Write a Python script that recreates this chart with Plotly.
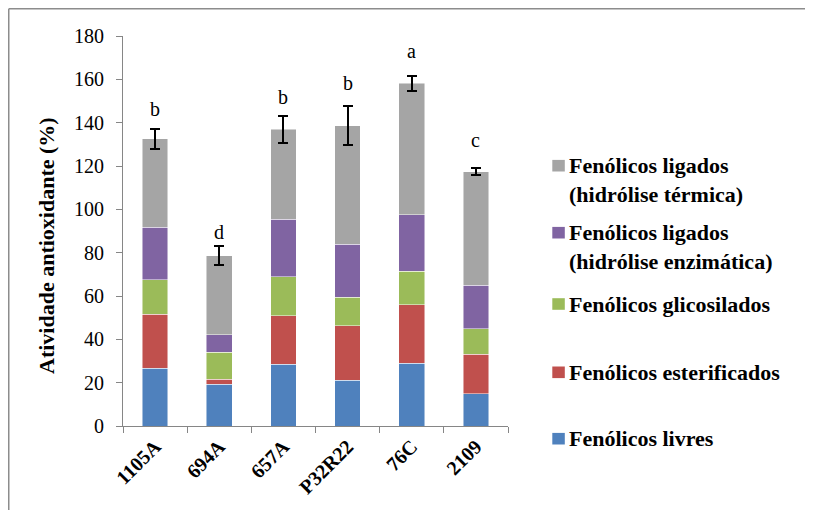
import plotly.graph_objects as go

# ---------------- data ----------------
categories = ["1105A", "694A", "657A", "P32R22", "76C", "2109"]
series_names = [
    "Fenólicos livres",
    "Fenólicos esterificados",
    "Fenólicos glicosilados",
    "Fenólicos ligados<br>(hidrólise enzimática)",
    "Fenólicos ligados<br>(hidrólise térmica)",
]
livres = [26.6, 19.2, 28.5, 21.1, 28.9, 14.9]
esterificados = [24.9, 2.3, 22.4, 25.1, 27.1, 18.2]
glicosilados = [15.9, 12.5, 18.0, 13.3, 15.4, 11.7]
lig_enzimatica = [24.3, 8.2, 26.6, 24.4, 26.0, 20.1]
lig_termica = [40.9, 36.4, 41.4, 54.6, 60.8, 52.5]
total_error = [4.6, 4.3, 6.2, 9.0, 3.5, 1.7]
letters = ["b", "d", "b", "b", "a", "c"]
letter_y = [143.1, 86.2, 148.6, 155.1, 169.7, 128.6]
y_ticks = [0, 20, 40, 60, 80, 100, 120, 140, 160, 180]

series_values = [livres, esterificados, glicosilados, lig_enzimatica, lig_termica]
colors = ["#4F81BD", "#C0504D", "#9BBB59", "#8064A2", "#A5A5A5"]

# ---------------- layout geometry (pixels) ----------------
OFF = 8  # page body margin
W, H = 813 - 2 * OFF, 518 - 2 * OFF
L, T = 123 - OFF, 36 - OFF
PW, PH = 385, 390
R, B = W - L - PW, H - T - PH
FONT = "Liberation Serif, Times New Roman, serif"


def px_x(px):  # reference-image pixel -> paper coord
    return (px - OFF - L) / PW


def px_y(py):
    return (T + PH - (py - OFF)) / PH


fig = go.Figure()
for i, (name, vals, col) in enumerate(zip(series_names, series_values, colors)):
    kw = {}
    if i == len(series_names) - 1:
        kw["error_y"] = dict(type="data", array=total_error, visible=True,
                             color="black", thickness=2, width=5)
    fig.add_trace(go.Bar(
        x=categories, y=vals, name=name,
        marker=dict(color=col, line=dict(color="rgba(255,255,255,0.6)", width=0.8)),
        showlegend=False, **kw,
    ))

annotations = []
for idx, (lt, ly) in enumerate(zip(letters, letter_y)):
    annotations.append(dict(x=idx, y=ly, xref="x", yref="y", text=lt,
                            showarrow=False, yanchor="middle", yshift=7,
                            font=dict(family=FONT, size=20, color="black")))

# custom legend (top to bottom, reversed order)
legend_first_line_px = [438.7, 372.3, 304.0, 232.7, 165.7]
line_gap = 27.7
shapes = []
for name, col, yc in zip(series_names, colors, legend_first_line_px):
    nlines = name.count("<br>") + 1
    center = yc + (nlines - 1) * line_gap / 2
    annotations.append(dict(x=px_x(567), y=px_y(center), xref="paper", yref="paper",
                            text="<b>" + name.replace("<br>", "</b><br><b>") + "</b>",
                            showarrow=False, xanchor="left", yanchor="middle", align="left",
                            font=dict(family=FONT, size=22, color="black")))
    shapes.append(dict(type="rect", xref="paper", yref="paper",
                       x0=px_x(552.3), x1=px_x(564.8),
                       y0=px_y(yc + 5.8), y1=px_y(yc - 5.8),
                       fillcolor=col, line=dict(width=0)))

# y axis title
annotations.append(dict(x=px_x(46), y=px_y(246), xref="paper", yref="paper",
                        text="<b>Atividade antioxidante (%)</b>", textangle=-90,
                        showarrow=False, xanchor="center", yanchor="middle",
                        font=dict(family=FONT, size=22, color="black")))

# outer frame: top and left edges only (others fall outside the picture)
frame_x = px_x(OFF + 0.75)
frame_y = px_y(OFF + 0.75)
shapes.append(dict(type="line", xref="paper", yref="paper",
                   x0=frame_x, x1=px_x(813), y0=frame_y, y1=frame_y,
                   line=dict(color="#8C8C8C", width=1.5)))
shapes.append(dict(type="line", xref="paper", yref="paper",
                   x0=frame_x, x1=frame_x, y0=frame_y, y1=px_y(518),
                   line=dict(color="#8C8C8C", width=1.5)))

fig.update_layout(
    width=W, height=H,
    margin=dict(l=L, r=R, t=T, b=B),
    barmode="stack", bargap=0.6,
    plot_bgcolor="white", paper_bgcolor="white",
    font=dict(family=FONT, size=20, color="black"),
    annotations=annotations, shapes=shapes,
    xaxis=dict(type="category", categoryorder="array", categoryarray=categories,
               range=[-0.5, len(categories) - 0.5],
               showline=True, linecolor="#868686", linewidth=1,
               ticks="outside", ticklen=6, tickcolor="#868686", tickson="boundaries",
               tickangle=-45, tickfont=dict(family=FONT, size=20, color="black"),
               tickvals=categories, ticktext=["<b>%s</b>" % c for c in categories],
               showgrid=False, zeroline=False),
    yaxis=dict(range=[0, 180], tickvals=y_ticks, showline=True, linecolor="#868686",
               linewidth=1, ticks="outside", ticklen=6, tickcolor="#868686",
               tickfont=dict(family=FONT, size=20, color="black"),
               ticklabelstandoff=8, showgrid=False, zeroline=False),
)

fig.write_html("out.html")
